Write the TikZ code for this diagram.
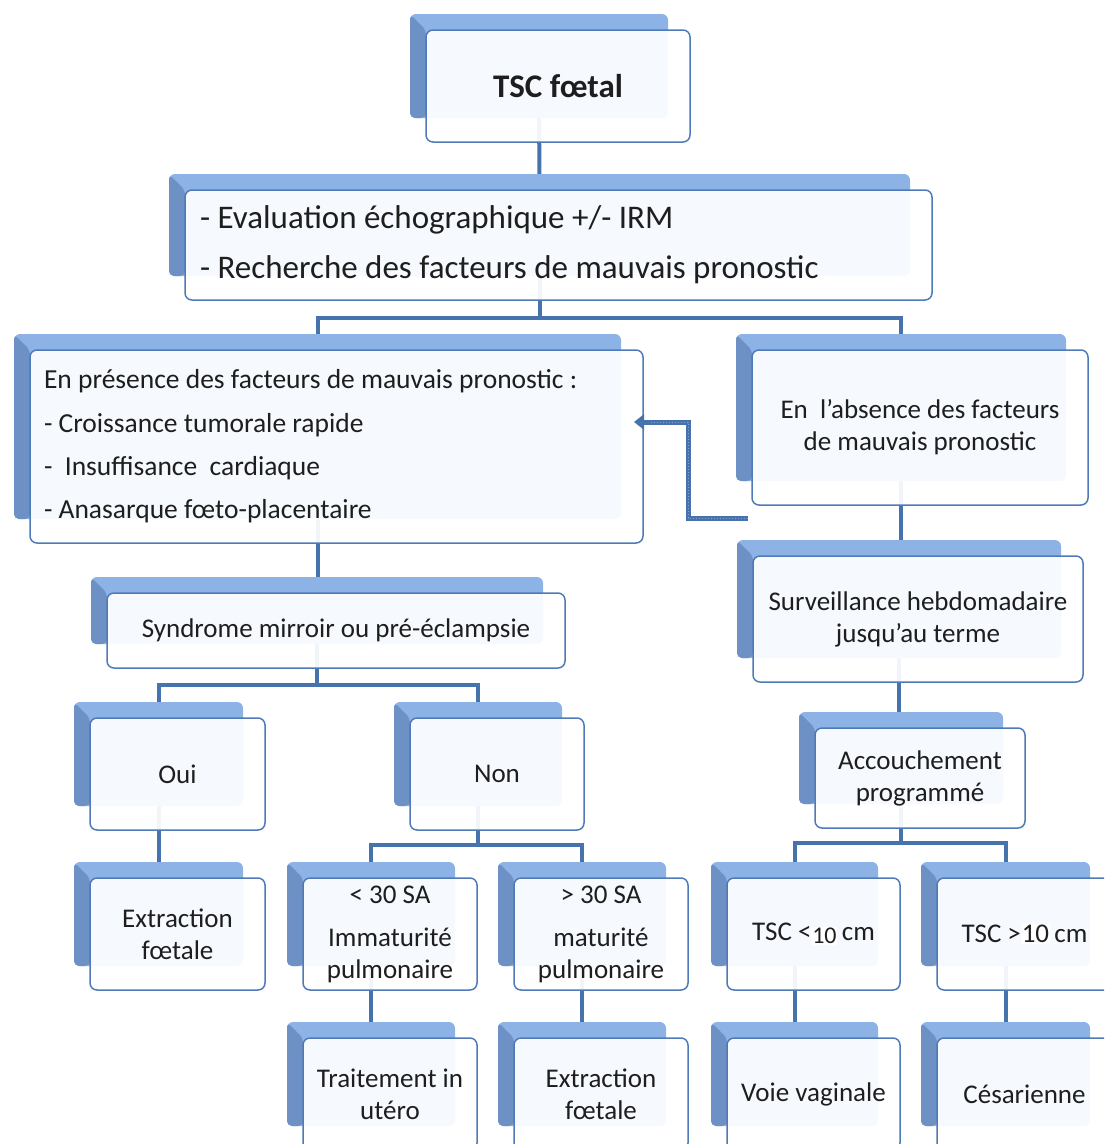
\documentclass[tikz,border=0pt]{standalone}
\usepackage{fontspec}
\setmainfont{Carlito}
\usetikzlibrary{arrows.meta,calc}
\pgfdeclarelayer{background}
\pgfsetlayers{background,main}
\definecolor{connc}{HTML}{4672AD}
\definecolor{backc}{HTML}{8DB3E6}
\definecolor{backsidec}{HTML}{6E91C5}
\definecolor{bordc}{HTML}{4E7BB8}
\definecolor{txtc}{HTML}{1E1E1E}
\newcommand\hlten[1]{{\setlength\fboxsep{0.8pt}\colorbox{white}{#1}}}
\tikzset{
  conn/.style={draw=connc,line width=4pt},
  front/.style={draw=bordc,line width=1.5pt,rounded corners=7pt,fill=white,fill opacity=0.93,
    text opacity=1,text=txtc,inner sep=0pt,align=center,font=\fontsize{27}{32}\selectfont},
  backbox/.style={fill=backc,rounded corners=6pt,inner sep=0pt,outer sep=0pt},
  backside/.style={fill=backsidec,rounded corners=5pt},
  fbarrow/.style={draw=connc,line width=5pt,-{Triangle[width=15pt,length=10pt]}},
  fbdots/.style={draw=white,line width=1pt,dotted,opacity=0.35}
}
% [options]{name}{x1}{y1}{x2}{y2}{text}
\newcommand\mkbox[7][]{%
  \node[backbox,minimum width={(#5-#3-6)*1pt},minimum height={(#6-#4-8)*1pt}]
    (#2-b) at ({(#3+#5)/2-19},{(#4+#6)/2-20}) {};
  \fill[backside] (#2-b.north west) -- (#3,#4) -- (#3,#6-24) -- (#2-b.south west) -- cycle;
  \node[front,#1,minimum width={(#5-#3)*1pt},minimum height={(#6-#4)*1pt}]
    (#2) at ({(#3+#5)/2},{(#4+#6)/2}) {#7};
}
\begin{document}
\begin{tikzpicture}[x=1pt,y=-1pt]
\useasboundingbox (0,0) rectangle (1104,1144);
\clip (0,0) rectangle (1104,1144);

\mkbox[font=\bfseries\fontsize{33}{38}\selectfont]{tsc}{426}{30}{690}{142}{TSC fœtal}
\mkbox[font=\fontsize{33}{50}\selectfont]{eval}{185}{190}{932}{300}%
  {\parbox{717pt}{\fontsize{33}{50}\selectfont
   - Evaluation échographique +/- IRM\newline
   - Recherche des facteurs de mauvais pronostic}}
\mkbox[font=\fontsize{27.5}{43.3}\selectfont]{pres}{30}{350}{643}{543}%
  {\parbox{585pt}{\fontsize{27.5}{43.3}\selectfont
   En présence des facteurs de mauvais pronostic :\newline
   - Croissance tumorale rapide\newline
   -~ Insuffisance~ cardiaque\newline
   - Anasarque fœto-placentaire}}
\mkbox{abs}{752}{350}{1088}{505}{En~ l'absence des facteurs\\de mauvais pronostic}
\mkbox{synd}{107}{593}{565}{668}{Syndrome mirroir ou pré-éclampsie}
\mkbox{surv}{753}{556}{1083}{682}{Surveillance hebdomadaire\\jusqu'au terme}
\mkbox{oui}{90}{718}{265}{830}{Oui}
\mkbox{non}{410}{718}{584}{830}{Non}
\mkbox{acc}{815}{728}{1025}{828}{Accouchement\\programmé}
\mkbox{ext}{90}{878}{265}{990}{Extraction\\fœtale}
\mkbox{lt}{303}{878}{477}{990}{< 30 SA\\[11pt]Immaturité\\pulmonaire}
\mkbox{gt}{514}{878}{688}{990}{> 30 SA\\[11pt]maturité\\pulmonaire}
\mkbox{tlt}{727}{878}{900}{990}{TSC <\hlten{\raisebox{-3pt}{\fontsize{24}{24}\selectfont 10}}\,cm}
\mkbox{tgt}{937}{878}{1112}{990}{TSC >\hlten{10}\,cm}
\mkbox{trt}{303}{1038}{477}{1150}{Traitement in\\utéro}
\mkbox{ext2}{514}{1038}{688}{1150}{Extraction\\fœtale}
\mkbox{vv}{727}{1038}{900}{1150}{Voie vaginale}
\mkbox{ces}{937}{1038}{1112}{1150}{Césarienne}

\coordinate (bus1) at (0,318);
\coordinate (bus2) at (0,685);
\coordinate (bus3) at (0,845);
\coordinate (bus4) at (0,843);
\coordinate (fbstart) at (748,518);
\coordinate (fbend) at (634,422);

\begin{pgfonlayer}{background}
  \draw[conn] (tsc-b.center) -- (eval-b.center);
  \draw[conn] (eval-b.center) -- (eval-b.center |- bus1) -| (pres-b.center);
  \draw[conn] (eval-b.center |- bus1) -| (abs-b.center);
  \draw[conn] (pres-b.center) -- (pres-b.center |- synd-b.center);
  \draw[conn] (synd-b.center) -- (synd-b.center |- bus2) -| (oui-b.center);
  \draw[conn] (synd-b.center |- bus2) -| (non-b.center);
  \draw[conn] (oui-b.center) -- (oui-b.center |- ext-b.center);
  \draw[conn] (non-b.center) -- (non-b.center |- bus3) -| (lt-b.center);
  \draw[conn] (non-b.center |- bus3) -| (gt-b.center);
  \draw[conn] (lt-b.center) -- (lt-b.center |- trt-b.center);
  \draw[conn] (gt-b.center) -- (gt-b.center |- ext2-b.center);
  \draw[conn] (abs-b.center) -- (abs-b.center |- surv-b.center);
  \draw[conn] (surv-b.center) -- (surv-b.center |- acc-b.center);
  \draw[conn] (acc-b.center) -- (acc-b.center |- bus4) -| (tlt-b.center);
  \draw[conn] (acc-b.center |- bus4) -| (tgt-b.center);
  \draw[conn] (tlt-b.center) -- (tlt-b.center |- vv-b.center);
  \draw[conn] (tgt-b.center) -- (tgt-b.center |- ces-b.center);
\end{pgfonlayer}

\draw[fbarrow] (fbstart) -- (688,518) -- (688,422) -- (fbend);
\draw[fbdots] (fbstart) -- (688,518) -- (688,422) -- (650,422);
\end{tikzpicture}
\end{document}
